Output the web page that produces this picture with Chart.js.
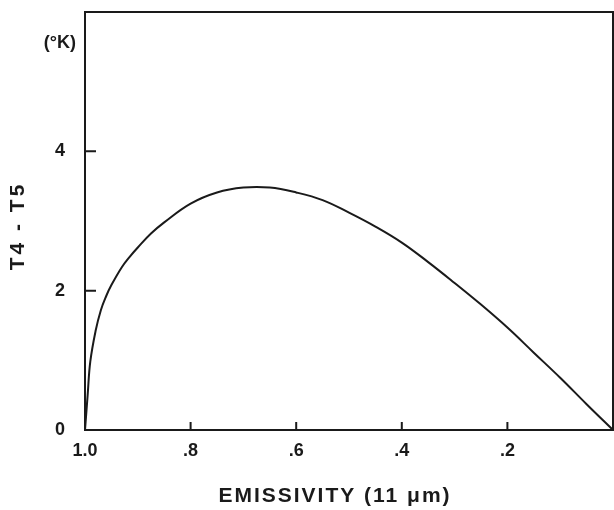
<!DOCTYPE html>
<html>
<head>
<meta charset="utf-8">
<script src="https://cdn.jsdelivr.net/npm/chart.js@4.4.1/dist/chart.umd.min.js"></script>
<style>
  html, body { margin: 0; padding: 0; background: #fff; }
  #wrap { width: 614px; height: 510px; }
</style>
</head>
<body>
<div id="wrap"><canvas id="myChart"></canvas></div>
<script>
// values
var emissivity = [1.0, 0.995, 0.99, 0.98, 0.97, 0.96, 0.95, 0.93, 0.915, 0.90, 0.875, 0.85, 0.80, 0.75, 0.70, 0.65, 0.60, 0.55, 0.50, 0.45, 0.40, 0.35, 0.30, 0.25, 0.20, 0.15, 0.10, 0.05, 0.0];
var deltaT = [0, 0.50, 0.98, 1.42, 1.72, 1.92, 2.08, 2.34, 2.49, 2.62, 2.82, 2.98, 3.25, 3.41, 3.48, 3.48, 3.41, 3.30, 3.12, 2.92, 2.69, 2.41, 2.11, 1.80, 1.47, 1.11, 0.75, 0.37, 0];

var xTicks = [1.0, 0.8, 0.6, 0.4, 0.2];
var xTickLabels = ['1.0', '.8', '.6', '.4', '.2'];
var yTicks = [0, 2, 4];
var yUnit = '(°K)';
var yTitle = 'T4 - T5';
var xTitle = 'EMISSIVITY (11 μm)';

var ink = '#1a1a1a';
var fontFamily = '"Liberation Sans", Arial, Helvetica, sans-serif';

var points = emissivity.map(function (e, i) { return { x: e, y: deltaT[i] }; });

// box round the plot, inward tick marks, and the titles
var framePlugin = {
  id: 'frame',
  afterDraw: function (chart) {
    var ctx = chart.ctx;
    var a = chart.chartArea;
    var xs = chart.scales.x, ys = chart.scales.y;
    ctx.save();
    ctx.strokeStyle = ink;
    ctx.lineWidth = 2;
    ctx.strokeRect(a.left, a.top, a.right - a.left, a.bottom - a.top);

    ctx.beginPath();
    xTicks.forEach(function (v) {
      if (v === 1.0) return;
      var px = xs.getPixelForValue(v);
      ctx.moveTo(px, a.bottom);
      ctx.lineTo(px, a.bottom - 8);
    });
    yTicks.forEach(function (v) {
      if (v === 0) return;
      var py = ys.getPixelForValue(v);
      ctx.moveTo(a.left, py);
      ctx.lineTo(a.left + 11, py);
    });
    ctx.stroke();

    ctx.fillStyle = ink;
    ctx.font = 'bold 18px ' + fontFamily;
    ctx.textAlign = 'right';
    ctx.textBaseline = 'middle';
    ctx.fillText(yUnit, a.left - 9, ys.getPixelForValue(5.55));

    ctx.font = 'bold 21px ' + fontFamily;
    ctx.textAlign = 'center';
    ctx.letterSpacing = '2px';
    ctx.fillText(xTitle, a.left + 250, 496);

    ctx.letterSpacing = '3px';
    ctx.translate(18, 226);
    ctx.rotate(-Math.PI / 2);
    ctx.fillText(yTitle, 0, 0);
    ctx.restore();
  }
};

function noPadding(scale) {
  scale.paddingTop = 0;
  scale.paddingBottom = 0;
  scale.paddingLeft = 0;
  scale.paddingRight = 0;
}

var ctx = document.getElementById('myChart').getContext('2d');
var myChart = new Chart(ctx, {
  type: 'scatter',
  data: {
    datasets: [{
      data: points,
      showLine: true,
      borderColor: ink,
      borderWidth: 2,
      pointRadius: 0,
      tension: 0.4,
      fill: false
    }]
  },
  options: {
    responsive: true,
    maintainAspectRatio: false,
    animation: false,
    layout: { padding: { top: 12, right: 1, left: 0, bottom: 0 } },
    plugins: {
      legend: { display: false },
      tooltip: { enabled: false }
    },
    scales: {
      x: {
        type: 'linear',
        reverse: true,
        min: 0,
        max: 1,
        afterBuildTicks: function (scale) {
          scale.ticks = xTicks.map(function (v) { return { value: v }; });
        },
        afterFit: function (scale) { scale.height = 80; noPadding(scale); },
        grid: { display: false, drawTicks: false },
        border: { display: false },
        ticks: {
          color: ink,
          padding: 10,
          maxRotation: 0,
          font: { size: 18, weight: 'bold', family: fontFamily },
          callback: function (v) {
            var i = xTicks.indexOf(v);
            return i >= 0 ? xTickLabels[i] : '';
          }
        }
      },
      y: {
        min: 0,
        max: 6,
        afterBuildTicks: function (scale) {
          scale.ticks = yTicks.map(function (v) { return { value: v }; });
        },
        afterFit: function (scale) { scale.width = 85; noPadding(scale); },
        grid: { display: false, drawTicks: false },
        border: { display: false },
        ticks: {
          color: ink,
          padding: 20,
          font: { size: 18, weight: 'bold', family: fontFamily }
        }
      }
    }
  },
  plugins: [framePlugin]
});
</script>
</body>
</html>
